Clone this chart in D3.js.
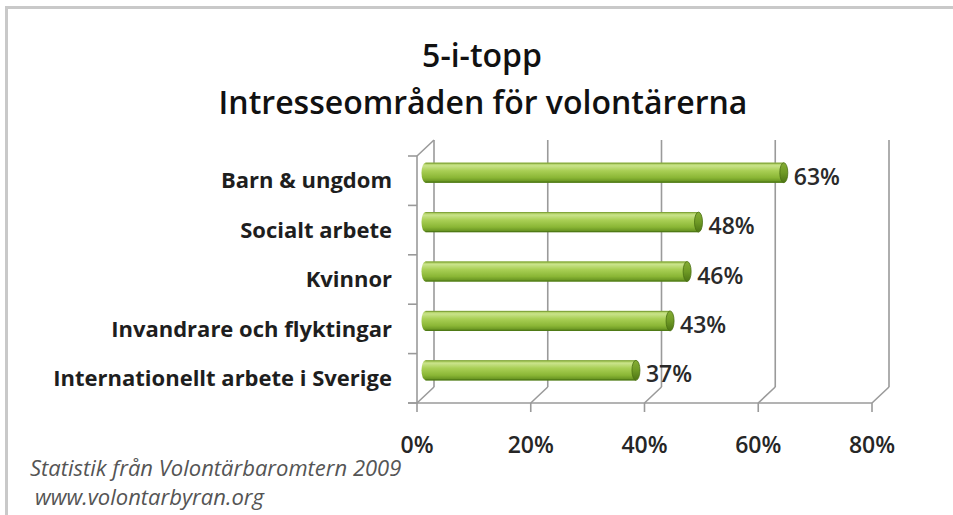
<!DOCTYPE html>
<html>
<head>
<meta charset="utf-8">
<script src="https://cdn.jsdelivr.net/npm/d3@7/dist/d3.min.js"></script>
<style>
  html, body { margin: 0; padding: 0; background: #fff; }
  svg { display: block; }
</style>
</head>
<body>
<svg id="chart" width="953" height="515"></svg>
<script>
const categories = [
  "Barn & ungdom",
  "Socialt arbete",
  "Kvinnor",
  "Invandrare och flyktingar",
  "Internationellt arbete i Sverige"
];
const values = [63, 48, 46, 43, 37];
const xTicks = [0, 20, 40, 60, 80];
const titleLines = ["5-i-topp", "Intresseområden för volontärerna"];
const footerLines = ["Statistik från Volontärbaromtern 2009", "www.volontarbyran.org"];

const svg = d3.select("#chart");
const font = "'Open Sans', Lato, sans-serif";

// frame
svg.append("rect").attr("x", 6.5).attr("y", 7.5).attr("width", 1000).attr("height", 1000)
  .attr("fill", "none").attr("stroke", "#c9c9c9").attr("stroke-width", 3);

// 3D geometry
const DX = 17, DY = -16;
const x = d3.scaleLinear().domain([0, 80]).range([417, 872]);
const y = d3.scaleBand().domain(categories).range([156, 403]);
const floorY = 403, topY = 156;
const grid = "#9a9a9a";

const defs = svg.append("defs");
const grad = defs.append("linearGradient").attr("id", "barGrad").attr("x1", 0).attr("y1", 0).attr("x2", 0).attr("y2", 1);
[[0, "#9fc34a"], [0.15, "#c9e38a"], [0.4, "#a9cf55"], [0.75, "#8ab635"], [1, "#5e8a1c"]]
  .forEach(([o, c]) => grad.append("stop").attr("offset", o).attr("stop-color", c));
const capGrad = defs.append("linearGradient").attr("id", "capGrad").attr("x1", 0).attr("y1", 0).attr("x2", 0).attr("y2", 1);
[[0, "#86ad35"], [0.5, "#6f9a25"], [1, "#4d7514"]]
  .forEach(([o, c]) => capGrad.append("stop").attr("offset", o).attr("stop-color", c));

const g = svg.append("g").attr("fill", "none").attr("stroke", grid).attr("stroke-width", 1.6);

xTicks.forEach(t => {
  g.append("line").attr("x1", x(t) + DX).attr("x2", x(t) + DX)
    .attr("y1", topY + DY).attr("y2", floorY + DY);
  g.append("line").attr("x1", x(t) + DX).attr("y1", floorY + DY)
    .attr("x2", x(t)).attr("y2", floorY);
  g.append("line").attr("x1", x(t)).attr("x2", x(t)).attr("y1", floorY).attr("y2", floorY + 9);
});
g.append("line").attr("x1", x(0) - 9).attr("x2", x(80)).attr("y1", floorY).attr("y2", floorY);
g.append("line").attr("x1", x(0)).attr("x2", x(0)).attr("y1", topY).attr("y2", floorY);
g.append("line").attr("x1", x(0)).attr("y1", topY).attr("x2", x(0) + DX).attr("y2", topY + DY);
const bounds = categories.map(c => y(c)).concat([floorY]);
bounds.forEach(b => {
  g.append("line").attr("x1", x(0) - 9).attr("x2", x(0)).attr("y1", b).attr("y2", b);
});

// bars (cylinders at mid depth)
const barH = 20;
const bars = svg.append("g");
categories.forEach((c, i) => {
  const cy = y(c) + y.bandwidth() / 2 + DY / 2;
  const x0 = x(0) + DX / 2, x1 = x(values[i]) + DX / 2;
  const rx = 4;
  bars.append("ellipse").attr("cx", x0).attr("cy", cy).attr("rx", rx).attr("ry", barH / 2)
    .attr("fill", "url(#barGrad)");
  bars.append("rect").attr("x", x0).attr("y", cy - barH / 2).attr("width", x1 - x0).attr("height", barH)
    .attr("fill", "url(#barGrad)");
  bars.append("line").attr("x1", x0).attr("x2", x1).attr("y1", cy + barH / 2 - 0.5).attr("y2", cy + barH / 2 - 0.5)
    .attr("stroke", "#4f7a16").attr("stroke-width", 1.2);
  bars.append("line").attr("x1", x0).attr("x2", x1).attr("y1", cy - barH / 2 + 0.5).attr("y2", cy - barH / 2 + 0.5)
    .attr("stroke", "#7ea23a").attr("stroke-width", 1);
  bars.append("ellipse").attr("cx", x1).attr("cy", cy).attr("rx", rx).attr("ry", barH / 2)
    .attr("fill", "url(#capGrad)").attr("stroke", "#4a7012").attr("stroke-width", 0.8);
  svg.append("text").attr("x", x1 + 10).attr("y", cy + 4).attr("dy", "0.35em")
    .attr("font-family", font).attr("font-weight", 600).attr("font-size", 23).attr("fill", "#2a2a2a")
    .text(values[i] + "%");
  svg.append("text").attr("x", 392).attr("y", y(c) + y.bandwidth() / 2).attr("dy", "0.35em")
    .attr("text-anchor", "end").attr("font-family", font).attr("font-weight", 700)
    .attr("font-size", 22).attr("fill", "#1e1e1e").text(c);
});

// x axis labels
xTicks.forEach(t => {
  svg.append("text").attr("x", x(t)).attr("y", 445).attr("dy", "0.35em")
    .attr("text-anchor", "middle").attr("font-family", font).attr("font-weight", 600)
    .attr("font-size", 23).attr("fill", "#262626").text(t + "%");
});

// title
svg.append("text").attr("x", 482).attr("y", 56).attr("dy", "0.35em").attr("text-anchor", "middle")
  .attr("font-family", font).attr("font-weight", 600).attr("font-size", 32).attr("fill", "#111").text(titleLines[0]);
svg.append("text").attr("x", 483).attr("y", 103).attr("dy", "0.35em").attr("text-anchor", "middle")
  .attr("font-family", font).attr("font-weight", 600).attr("font-size", 32).attr("fill", "#111").text(titleLines[1]);

// footer
svg.append("text").attr("x", 30).attr("y", 468).attr("dy", "0.35em")
  .attr("font-family", font).attr("font-style", "italic").attr("font-size", 22).attr("fill", "#555")
  .text(footerLines[0]);
svg.append("text").attr("x", 35).attr("y", 497).attr("dy", "0.35em")
  .attr("font-family", font).attr("font-style", "italic").attr("font-size", 22).attr("fill", "#555")
  .text(footerLines[1]);
</script>
</body>
</html>
